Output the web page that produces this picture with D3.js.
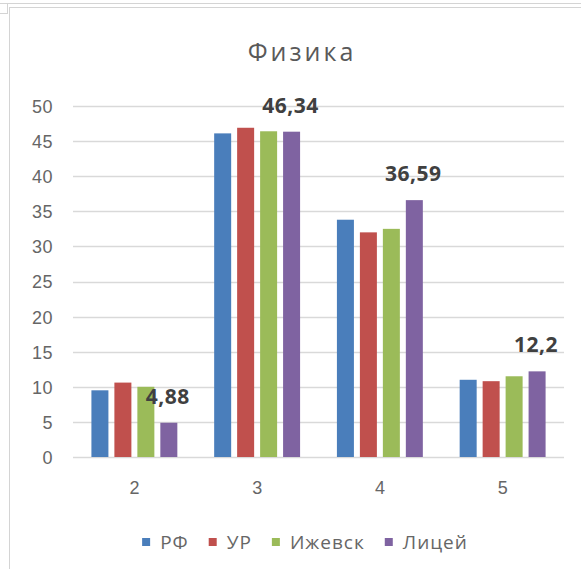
<!DOCTYPE html>
<html><head><meta charset="utf-8">
<script src="https://cdn.jsdelivr.net/npm/d3@7"></script>
<style>
html,body{margin:0;padding:0;background:#fff;}
svg{display:block;font-family:"Open Sans","Noto Sans",sans-serif;}
</style></head>
<body>
<svg id="c" width="581" height="569"></svg>
<script>
const title = "Физика";
const categories = ["2", "3", "4", "5"];
const seriesNames = ["РФ", "УР", "Ижевск", "Лицей"];
const seriesColors = ["#4A7EBB", "#C0504D", "#9BBB59", "#7F63A1"];
const valuesRF = [9.5, 46.1, 33.8, 11.0];
const valuesUR = [10.6, 46.9, 32.0, 10.8];
const valuesIzh = [10.0, 46.4, 32.5, 11.5];
const valuesLic = [4.88, 46.34, 36.59, 12.2];
const labelsLic = ["4,88", "46,34", "36,59", "12,2"];
const yTicks = [0, 5, 10, 15, 20, 25, 30, 35, 40, 45, 50];

const allSeries = [valuesRF, valuesUR, valuesIzh, valuesLic];
const svg = d3.select("#c");

// frame of the spreadsheet chart object
const frame = svg.append("g").attr("stroke", "#d4d4d4").attr("fill", "none");
frame.append("line").attr("x1", 0).attr("x2", 581).attr("y1", 3.5).attr("y2", 3.5);
frame.append("line").attr("x1", 9).attr("x2", 581).attr("y1", 7.5).attr("y2", 7.5);
frame.append("line").attr("x1", 9.5).attr("x2", 9.5).attr("y1", 7).attr("y2", 569);
frame.append("line").attr("x1", 0).attr("x2", 8).attr("y1", 13.5).attr("y2", 13.5);
frame.append("line").attr("x1", 7.5).attr("x2", 7.5).attr("y1", 3).attr("y2", 13);

const plotL = 73, plotR = 564, plotT = 106, plotB = 457;

const y = d3.scaleLinear().domain([0, 50]).range([plotB, plotT]);
const x0 = d3.scaleBand().domain(categories).range([plotL, plotR]).paddingInner(0.3).paddingOuter(0.15);
const x1 = d3.scaleBand().domain(d3.range(4)).range([0, x0.bandwidth()]).paddingInner(0.26);

// gridlines
svg.append("g").selectAll("line").data(yTicks).join("line")
  .attr("x1", plotL).attr("x2", plotR)
  .attr("y1", d => Math.round(y(d)) + 0.5).attr("y2", d => Math.round(y(d)) + 0.5)
  .attr("stroke", "#d9d9d9").attr("stroke-width", 1.5);

// y axis labels
const yAxis = d3.axisLeft(y).tickValues(yTicks).tickSize(0).tickPadding(0);
const gy = svg.append("g").attr("transform", `translate(53,0)`).call(yAxis);
gy.select(".domain").remove();
gy.selectAll("text").attr("fill", "#666666").style("font-size", "18px")
  .style("letter-spacing", "0.5px").attr("dy", "0.36em");

// x axis labels
const xAxis = d3.axisBottom(x0).tickSize(0).tickPadding(0);
const gx = svg.append("g").attr("transform", `translate(0,${plotB})`).call(xAxis);
gx.select(".domain").remove();
gx.selectAll("text").attr("fill", "#666666").style("font-size", "18px").attr("y", 37).attr("dy", 0);

// bars
const groups = svg.append("g").selectAll("g").data(categories).join("g")
  .attr("transform", d => `translate(${x0(d)},0)`);
groups.selectAll("rect").data((d, i) => allSeries.map((s, k) => ({k, v: s[i]}))).join("rect")
  .attr("x", d => x1(d.k)).attr("width", x1.bandwidth())
  .attr("y", d => y(d.v)).attr("height", d => y(0) - y(d.v))
  .attr("fill", d => seriesColors[d.k]);

// data labels for Лицей
svg.append("g").selectAll("text").data(categories).join("text")
  .attr("x", (d, i) => x0(d) + x1(3) + x1.bandwidth() / 2 - 1)
  .attr("y", (d, i) => y(valuesLic[i]) - 19)
  .attr("text-anchor", "middle")
  .attr("fill", "#404040").style("font-size", "21px").style("font-weight", "bold")
  .style("letter-spacing", "0.5px")
  .text((d, i) => labelsLic[i]);

// title
svg.append("text").attr("x", 302).attr("y", 61).attr("text-anchor", "middle")
  .attr("fill", "#595959").style("font-size", "25px").style("letter-spacing", "3px").text(title);

// legend
const lg = svg.append("g");
const items = lg.selectAll("g").data(seriesNames).join("g");
items.append("rect").attr("width", 8).attr("height", 8).attr("y", -4)
  .attr("fill", (d, i) => seriesColors[i]);
items.append("text").attr("x", 18).attr("dy", "0.35em")
  .attr("fill", "#666666").style("font-size", "19px").style("letter-spacing", "1px").text(d => d);
const widths = [];
items.each(function() {
  widths.push(d3.select(this).select("text").node().getComputedTextLength() + 18);
});
const gap = 20;
const total = d3.sum(widths) + gap * (widths.length - 1);
const start = 305 - total / 2;
items.attr("transform", (d, i) => {
  const tx = start + d3.sum(widths.slice(0, i)) + gap * i;
  return `translate(${tx},542)`;
});
</script>
</body></html>
